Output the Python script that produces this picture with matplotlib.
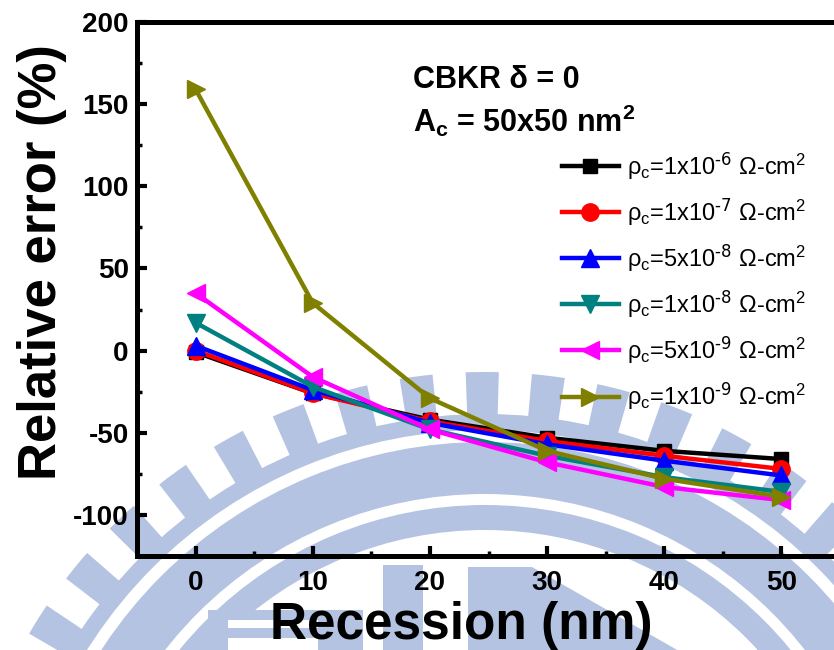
import numpy as np
import matplotlib
matplotlib.use("Agg")
import matplotlib.pyplot as plt
from matplotlib.patches import Wedge, Rectangle, Polygon

plt.rcParams['font.family'] = ['Liberation Sans', 'DejaVu Sans']
plt.rcParams['mathtext.default'] = 'regular'
plt.rcParams['axes.unicode_minus'] = False

# recession depth (nm) and relative error (%) for each contact resistivity
recession = [0, 10, 20, 30, 40, 50]
err_1e6 = [-1, -26, -42, -53, -61, -66]
err_1e7 = [0, -26, -43, -55, -64, -72]
err_5e8 = [3, -24, -44, -57, -67, -76]
err_1e8 = [17, -22, -48, -64, -77, -86]
err_5e9 = [35, -16, -48, -68, -83, -91]
err_1e9 = [159, 29, -29, -61, -78, -89]

labels = [
    r'ρ$_c$=1x10$^{\text{-6}}$ Ω-cm$^2$',
    r'ρ$_c$=1x10$^{\text{-7}}$ Ω-cm$^2$',
    r'ρ$_c$=5x10$^{\text{-8}}$ Ω-cm$^2$',
    r'ρ$_c$=1x10$^{\text{-8}}$ Ω-cm$^2$',
    r'ρ$_c$=5x10$^{\text{-9}}$ Ω-cm$^2$',
    r'ρ$_c$=1x10$^{\text{-9}}$ Ω-cm$^2$',
]
colors = ['#000000', '#ff0000', '#0000ff', '#008080', '#ff00ff', '#808000']
markers = ['s', 'o', '^', 'v', '<', '>']

W, H = 834, 650
fig = plt.figure(figsize=(W / 100, H / 100), dpi=100)

# faint logo in the background
bg = fig.add_axes([0, 0, 1, 1], zorder=0)
bg.set_xlim(0, W)
bg.set_ylim(H, 0)
bg.axis('off')
wm = '#b4c3e2'
cx, cy = 485, 900
for a in np.arange(1.5, 360, 7.2):
    bg.add_patch(Wedge((cx, cy), 528, a, a + 3.6, width=45, color=wm, lw=0))
bg.add_patch(Wedge((cx, cy), 486, 0, 360, width=16, color=wm, lw=0))
bg.add_patch(Wedge((cx, cy), 458, 0, 360, width=52, color=wm, lw=0))
bg.add_patch(Wedge((cx, cy), 395, 0, 360, width=25, color=wm, lw=0))
bg.add_patch(Rectangle((208, 610), 155, 45, color=wm, lw=0))
bg.add_patch(Rectangle((228, 620), 90, 8, color='white', lw=0))
bg.add_patch(Rectangle((228, 638), 90, 15, color='white', lw=0))
bg.add_patch(Rectangle((383, 565), 40, 90, color=wm, lw=0))
bg.add_patch(Polygon([(468, 567), (532, 567), (686, 655), (468, 655)],
                     color=wm, lw=0))

ax = fig.add_axes([137 / W, 1 - 556 / H, 703 / W, 534 / H], zorder=1)
ax.set_facecolor('none')

series = [err_1e6, err_1e7, err_5e8, err_1e8, err_5e9, err_1e9]
for y, c, m, lab in zip(series, colors, markers, labels):
    ms = 10.5 if m == 's' else 12.5
    ax.plot(recession, y, color=c, marker=m, markersize=ms, lw=3.2,
            label=lab, clip_on=False)

ax.set_xlim(-5, 55)
ax.set_ylim(-125, 200)
ax.set_xticks(recession)
ax.set_xticks(np.arange(5, 55, 10), minor=True)
ax.set_yticks(np.arange(-100, 201, 50))
ax.set_yticks(np.arange(-125, 201, 25), minor=True)

for s in ax.spines.values():
    s.set_linewidth(3.6)
ax.spines['right'].set_visible(False)

ax.tick_params(which='major', direction='in', length=7, width=3,
               labelsize=20, pad=6)
ax.tick_params(which='minor', direction='in', length=3.5, width=2.5)
ax.tick_params(axis='x', which='major', pad=10)
for t in ax.get_xticklabels() + ax.get_yticklabels():
    t.set_fontweight('bold')

ax.set_xlabel('Recession (nm)', fontsize=37, fontweight='bold')
ax.xaxis.set_label_coords(0.461, -0.085)
ax.set_ylabel('Relative error (%)', fontsize=38, fontweight='bold')
ax.yaxis.set_label_coords(-0.10, 0.55)

fig.text(413 / W, 1 - 88 / H, 'CBKR δ = 0', fontsize=22,
         fontweight='bold', va='baseline')
fig.text(413 / W, 1 - 132 / H, 'A$_c$ = 50x50 nm$^2$', fontsize=22,
         fontweight='bold', va='baseline')

ax.legend(loc='upper left', bbox_to_anchor=(562 / W, 1 - 150 / H),
          bbox_transform=fig.transFigure, frameon=False, fontsize=17,
          handlelength=2.4, handletextpad=0.35, labelspacing=0.62,
          borderpad=0, borderaxespad=0)

fig.savefig('out.png', dpi=100)
